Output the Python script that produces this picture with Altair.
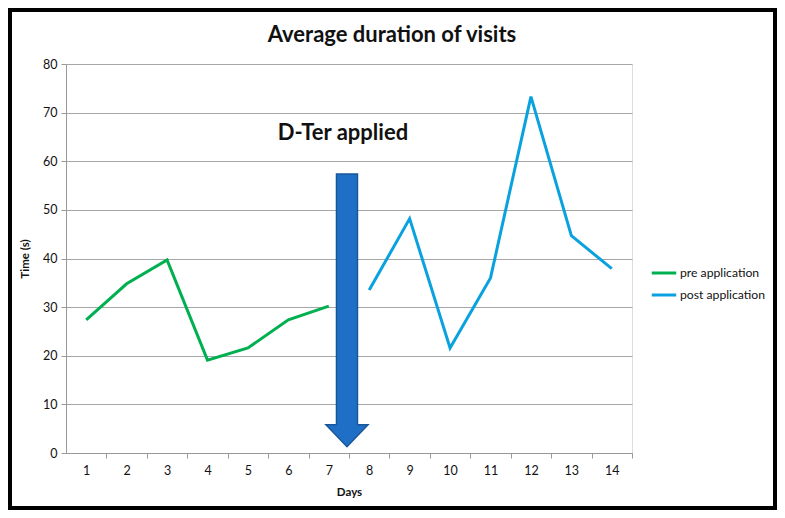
import altair as alt
import pandas as pd

days_pre = [1, 2, 3, 4, 5, 6, 7]
vals_pre = [27.4, 34.8, 39.7, 19.1, 21.6, 27.4, 30.2]
days_post = [8, 9, 10, 11, 12, 13, 14]
vals_post = [33.5, 48.2, 21.6, 36.0, 73.3, 44.7, 37.9]
series_names = ["pre application", "post application"]
series_colors = ["#00B050", "#0AA2DE"]
day_ticks = list(range(1, 15))
y_ticks = list(range(0, 90, 10))
chart_title = ["Average duration of visits"]

# annotation data
arrow_x = [7.45]
arrow_top = [57.4]
arrow_tip = [1.3]
note_text = ["D-Ter applied"]
note_x = [7.35]
note_y = [65.8]

FONT = "Lato"
W, H = 566, 389

lines_df = pd.DataFrame({
    "day": days_pre + days_post,
    "value": vals_pre + vals_post,
    "series": [series_names[0]] * len(days_pre) + [series_names[1]] * len(days_post),
})

x_scale = alt.Scale(domain=[0.5, 14.5], nice=False, zero=False)
y_scale = alt.Scale(domain=[0, 80], nice=False)

band_px = W / 14.0

lines = alt.Chart(lines_df).mark_line(strokeWidth=3).encode(
    x=alt.X("day:Q", scale=x_scale, title="Days",
            axis=alt.Axis(values=day_ticks, tickOffset=band_px / 2, labelOffset=-band_px / 2,
                          grid=False,
                          labelFontSize=12.5, titleFontSize=11.5, titleFontWeight="bold",
                          labelPadding=6, titlePadding=10, labelFont=FONT, titleFont=FONT,
                          domainColor="#999999", tickColor="#999999", tickSize=5,
                          labelColor="#111111", titleColor="#111111")),
    y=alt.Y("value:Q", scale=y_scale, title="Time (s)",
            axis=alt.Axis(values=y_ticks, grid=True, gridColor="#a6a6a6",
                          labelFontSize=12.5, titleFontSize=11.5, titleFontWeight="bold",
                          labelPadding=4, titlePadding=12, labelFont=FONT, titleFont=FONT,
                          domainColor="#999999", tickColor="#999999", tickSize=5,
                          labelColor="#111111", titleColor="#111111")),
    color=alt.Color("series:N",
                    scale=alt.Scale(domain=series_names, range=series_colors),
                    sort=series_names,
                    legend=alt.Legend(title=None, orient="none", legendX=584, legendY=195,
                                      symbolType="stroke", symbolStrokeWidth=3, symbolSize=600,
                                      labelFontSize=12.2, labelFont=FONT, rowPadding=1,
                                      labelColor="#111111", labelOffset=2)),
)

# arrow drawn as one custom symbol centred between its top and tip
arrow_df = pd.DataFrame({"x": arrow_x, "top": arrow_top, "tip": arrow_tip})
arrow_df["mid"] = (arrow_df["top"] + arrow_df["tip"]) / 2
arrow_h_px = (arrow_top[0] - arrow_tip[0]) / 80.0 * H
arrow_path = ("M-0.077,-1 L0.077,-1 L0.077,0.84 L0.154,0.84 L0,1 "
              "L-0.154,0.84 L-0.077,0.84 Z")
arrow = alt.Chart(arrow_df).mark_point(
    shape=arrow_path, filled=True, fill="#1F6FC6", stroke="#1A5799",
    strokeWidth=1.5, opacity=1, size=arrow_h_px ** 2,
).encode(x=alt.X("x:Q", scale=x_scale), y=alt.Y("mid:Q", scale=y_scale))

note_df = pd.DataFrame({"t": note_text, "x": note_x, "y": note_y})
note = alt.Chart(note_df).mark_text(
    font=FONT, fontSize=22, fontWeight="bold", color="#111111", align="center", baseline="middle"
).encode(x=alt.X("x:Q", scale=x_scale), y=alt.Y("y:Q", scale=y_scale), text="t:N")

title = alt.Chart(pd.DataFrame({"t": chart_title})).mark_text(
    font=FONT, fontSize=22, fontWeight="bold", color="#111111", align="center", baseline="middle"
).encode(x=alt.value(W / 2 + 43), y=alt.value(-29), text="t:N")

frame = alt.Chart(pd.DataFrame({"a": [0]})).mark_rect(
    fill=None, stroke="black", strokeWidth=4
).encode(x=alt.value(-56), x2=alt.value(W + 143), y=alt.value(-54), y2=alt.value(H + 55))

chart = alt.layer(lines, arrow, note, title, frame).properties(
    width=W, height=H,
    autosize=alt.AutoSizeParams(type="none"),
    padding={"left": 58, "top": 56, "right": 145, "bottom": 57},
).configure_view(stroke=None).configure(background="white")

chart.save("out.html", embed_options={"renderer": "svg", "actions": False})
